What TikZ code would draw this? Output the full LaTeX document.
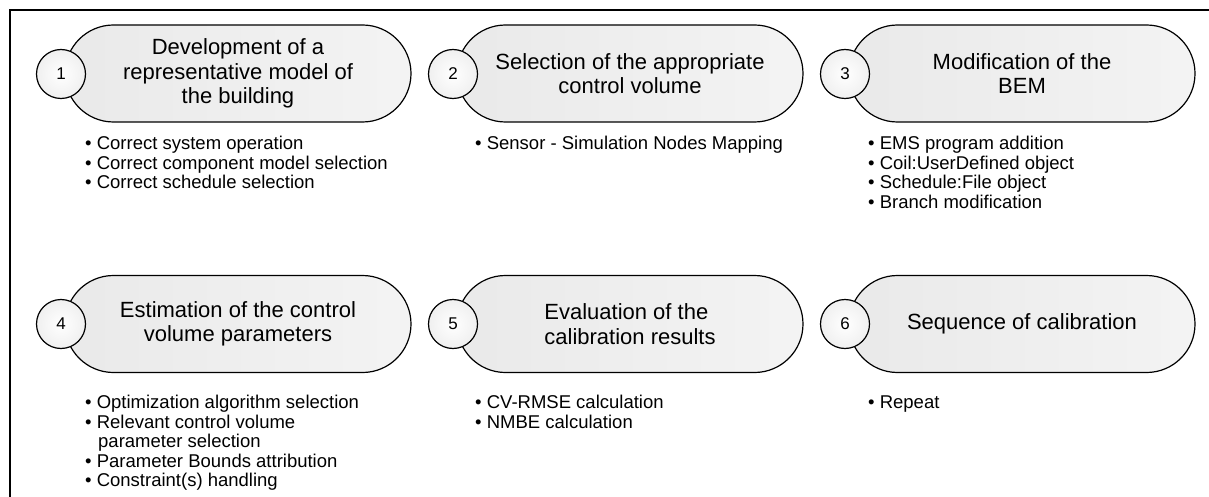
\documentclass[tikz,border=0pt]{standalone}
\usepackage{fontspec}
\setmainfont{Liberation Sans}
\begin{document}
\begin{tikzpicture}[x=1pt,y=-1pt,
  pill/.style={draw=black, line width=1.2pt, rounded corners=48.5pt,
    minimum width=346pt, minimum height=97pt, inner sep=0pt,
    left color=gray!17, right color=gray!9,
    align=center, font=\fontsize{22}{24.5}\selectfont},
  stepnum/.style={circle, draw=black, line width=1.2pt, minimum size=49pt,
    inner sep=0pt, inner color=white, outer color=gray!12,
    font=\fontsize{17}{20}\selectfont},
  item/.style={anchor=base west, inner sep=0pt,
    font=\fontsize{18.5}{19.5}\selectfont}]
\useasboundingbox (0,0) rectangle (1209,497);
% outer frame, running off the page on the right and bottom
\begin{scope}
  \clip (0,0) rectangle (1209,497);
  \draw[line width=2pt] (9.5,10.5) rectangle (1250,540);
\end{scope}

% ---- first row ----
\node[pill] (p1) at (238,73.5) {Development of a\\representative model of\\the building};
\node[stepnum] (n1) at (61,74) {1};
\node[pill] (p2) at (630,73.5) {Selection of the appropriate\\control volume};
\node[stepnum] (n2) at (453,74) {2};
\node[pill] (p3) at (1022,73.5) {Modification of the\\BEM};
\node[stepnum] (n3) at (845,74) {3};

\node[item] (a1) at (85,150) {• Correct system operation};
\node[item] (a2) at (85,169.5) {• Correct component model selection};
\node[item] (a3) at (85,189) {• Correct schedule selection};

\node[item] (b1) at (475,150) {• Sensor - Simulation Nodes Mapping};

\node[item] (c1) at (868,150) {• EMS program addition};
\node[item] (c2) at (868,169.5) {• Coil:UserDefined object};
\node[item] (c3) at (868,189) {• Schedule:File object};
\node[item] (c4) at (868,208.5) {• Branch modification};

% ---- second row ----
\node[pill] (p4) at (238,324) {Estimation of the control\\volume parameters};
\node[stepnum] (n4) at (61,324) {4};
\node[pill, align=left] (p5) at (630,324) {Evaluation of the\\calibration results};
\node[stepnum] (n5) at (453,324) {5};
\node[pill] (p6) at (1022,324) {Sequence of calibration};
\node[stepnum] (n6) at (845,324) {6};

\node[item] (d1) at (85,408.5) {• Optimization algorithm selection};
\node[item] (d2) at (85,428.1) {• Relevant control volume};
\node[item] (d3) at (98,447.7) {parameter selection};
\node[item] (d4) at (85,467.3) {• Parameter Bounds attribution};
\node[item] (d5) at (85,486.9) {• Constraint(s) handling};

\node[item] (e1) at (475,408.5) {• CV-RMSE calculation};
\node[item] (e2) at (475,428.1) {• NMBE calculation};

\node[item] (f1) at (868,408.5) {• Repeat};
\end{tikzpicture}
\end{document}
